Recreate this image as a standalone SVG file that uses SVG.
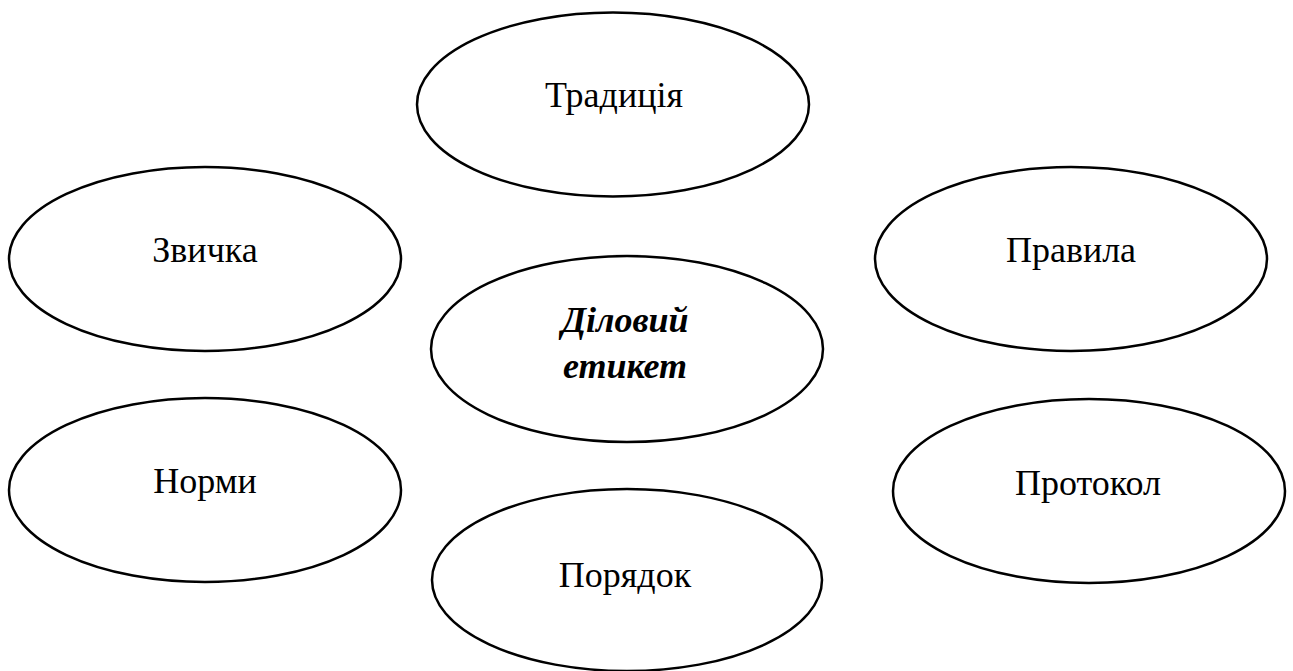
<svg xmlns="http://www.w3.org/2000/svg" width="1293" height="671" viewBox="0 0 1293 671">
<style>
.n{fill:#fff;stroke:#000;stroke-width:2.5}
.t{font-family:"Liberation Serif","Times New Roman",serif;font-size:36px;fill:#000;text-anchor:middle}
.b{font-weight:bold;font-style:italic}
</style>
<rect width="1293" height="671" fill="#fff"/>
<g id="connectors"></g>
<g id="tradytsiia"><ellipse class="n" cx="613" cy="104.5" rx="196" ry="92"/><text class="t" x="614" y="107">Традиція</text></g>
<g id="zvychka"><ellipse class="n" cx="205" cy="259" rx="196" ry="92"/><text class="t" x="205" y="262">Звичка</text></g>
<g id="pravyla"><ellipse class="n" cx="1071" cy="259" rx="196" ry="92"/><text class="t" x="1071" y="262">Правила</text></g>
<g id="dilovyi"><ellipse class="n" cx="627" cy="349" rx="196" ry="93"/><text class="t b" x="625" y="332">Діловий</text><text class="t b" x="625" y="378">етикет</text></g>
<g id="normy"><ellipse class="n" cx="205" cy="490" rx="196" ry="92"/><text class="t" x="205" y="493">Норми</text></g>
<g id="protokol"><ellipse class="n" cx="1089" cy="491" rx="196" ry="92"/><text class="t" x="1088" y="495">Протокол</text></g>
<g id="poriadok"><ellipse class="n" cx="627" cy="580" rx="195" ry="91"/><text class="t" x="625" y="587">Порядок</text></g>
</svg>
